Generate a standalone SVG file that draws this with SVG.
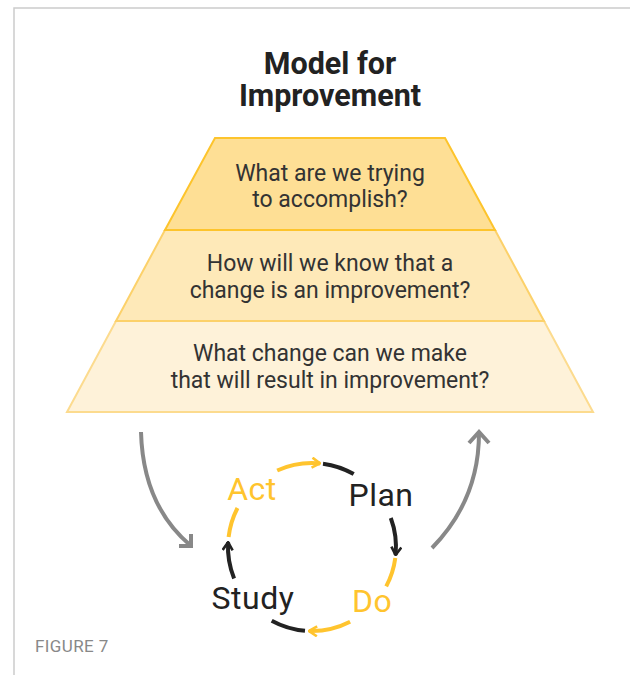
<svg xmlns="http://www.w3.org/2000/svg" width="630" height="675" viewBox="0 0 630 675">
<defs>
<style>
.title{font-family:Roboto,"Liberation Sans",sans-serif;font-weight:700;font-size:30.5px;fill:#222;text-anchor:middle}
.q{font-family:Roboto,"Liberation Sans",sans-serif;font-size:23px;fill:#333;text-anchor:middle}
.lbl{font-family:Roboto,"Liberation Sans",sans-serif;font-size:32px;letter-spacing:0.5px;text-anchor:middle}
.yl{stroke:#FFC42E;stroke-width:4;fill:none}
.bk{stroke:#222;stroke-width:4;fill:none}
.gr{stroke:#888;stroke-width:4;fill:none}
</style>
<marker id="ay" viewBox="0 0 10 12" refX="9" refY="6" markerWidth="10" markerHeight="12" markerUnits="userSpaceOnUse" orient="auto"><path d="M1,1 L9,6 L1,11" fill="none" stroke="#FFC42E" stroke-width="2.6"/></marker>
<marker id="ab" viewBox="0 0 10 12" refX="9" refY="6" markerWidth="10" markerHeight="12" markerUnits="userSpaceOnUse" orient="auto"><path d="M1,1 L9,6 L1,11" fill="none" stroke="#222" stroke-width="2.6"/></marker>
</defs>
<rect width="630" height="675" fill="#fff"/>
<path d="M14,675 L14,8 L630,8" fill="none" stroke="#ccc" stroke-width="1.5"/>
<g id="title">
<text class="title" x="330" y="74">Model for</text>
<text class="title" x="330" y="106">Improvement</text>
</g>
<g id="tier3">
<polygon points="116,321 544,321 593,412 67,412" fill="#FEF2D9" stroke="#FCDB8E" stroke-width="2"/>
<text class="q" x="330" y="361">What change can we make</text>
<text class="q" x="330" y="388">that will result in improvement?</text>
</g>
<g id="tier2">
<polygon points="165,230 495,230 544,321 116,321" fill="#FEE9B8" stroke="#FCD16A" stroke-width="2"/>
<text class="q" x="330" y="271">How will we know that a</text>
<text class="q" x="330" y="298">change is an improvement?</text>
</g>
<g id="tier1">
<polygon points="215,138 445,138 495,230 165,230" fill="#FEDF95" stroke="#FDC42C" stroke-width="2"/>
<text class="q" x="330" y="181">What are we trying</text>
<text class="q" x="330" y="207">to accomplish?</text>
</g>
<g id="act"><text class="lbl" x="252" y="500" fill="#FFC42E">Act</text></g>
<g id="plan"><text class="lbl" x="381" y="506" fill="#222">Plan</text></g>
<g id="do"><text class="lbl" x="372" y="612" fill="#FFC42E">Do</text></g>
<g id="study"><text class="lbl" x="253" y="609" fill="#222">Study</text></g>
<g id="connectors">
<path class="gr" d="M141,432 Q143,505 190,545"/>
<path class="gr" d="M179,546 L191,546 L191,534" stroke-linejoin="miter"/>
<path class="gr" d="M432,548 Q479,500 479,433"/>
<path class="gr" d="M469,443 L479,432 L489,443"/>
<path class="yl" d="M277.2,470.5 A84,84 0 0 1 320,463.4" marker-end="url(#ay)"/>
<path class="bk" d="M323,463.7 A84,84 0 0 1 353.7,474.1"/>
<path class="bk" d="M390.8,518 A84,84 0 0 1 395.6,555" marker-end="url(#ab)"/>
<path class="yl" d="M395.3,558 A84,84 0 0 1 386.2,586.4"/>
<path class="yl" d="M350.1,621.8 A84,84 0 0 1 309,631" marker-end="url(#ay)"/>
<path class="bk" d="M305,630.7 A84,84 0 0 1 271.7,620.7"/>
<path class="bk" d="M234.1,578.5 A84,84 0 0 1 228.1,542.2" marker-end="url(#ab)"/>
<path class="yl" d="M228.6,537 A84,84 0 0 1 237.5,508"/>
</g>
<text x="35" y="652" font-family="Roboto,'Liberation Sans',sans-serif" font-size="17" fill="#888" letter-spacing="0.4">FIGURE 7</text>
</svg>
